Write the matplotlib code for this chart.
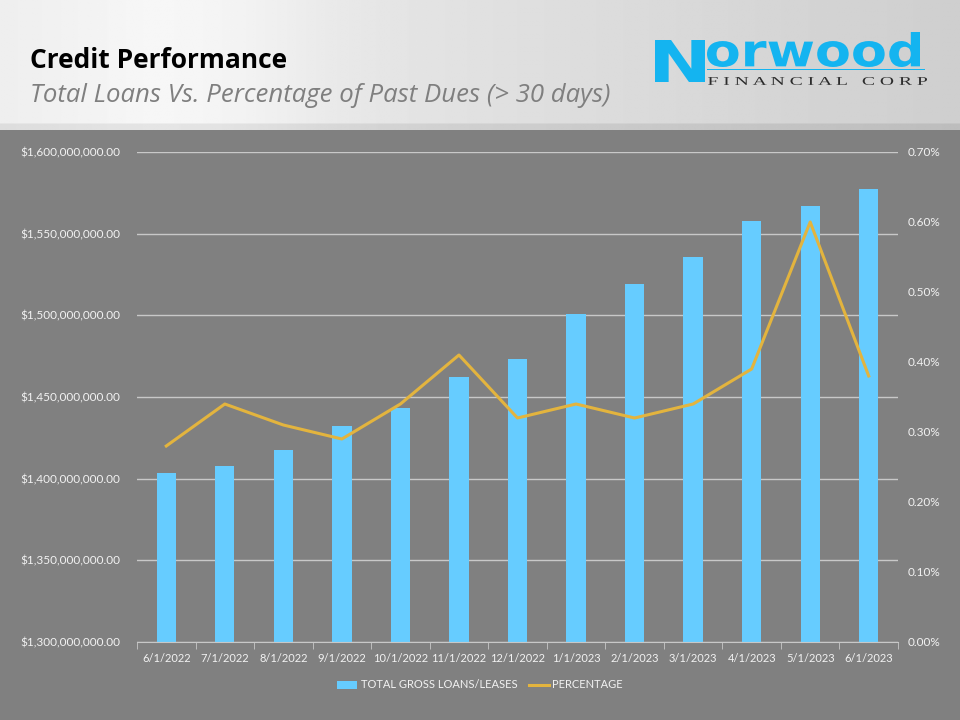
import numpy as np
import matplotlib
matplotlib.use("Agg")
import matplotlib.pyplot as plt
from matplotlib.ticker import FuncFormatter, FixedLocator
from matplotlib.textpath import TextPath
from matplotlib.font_manager import FontProperties
from matplotlib.patches import PathPatch, Rectangle
from matplotlib.transforms import Affine2D

# data
dates = ['6/1/2022', '7/1/2022', '8/1/2022', '9/1/2022', '10/1/2022', '11/1/2022',
         '12/1/2022', '1/1/2023', '2/1/2023', '3/1/2023', '4/1/2023', '5/1/2023', '6/1/2023']
total_loans = [1403.5e6, 1407.5e6, 1417.5e6, 1432e6, 1443e6, 1462e6, 1473e6,
               1501e6, 1519e6, 1535.5e6, 1558e6, 1567e6, 1577.5e6]
past_due_pct = [0.28, 0.34, 0.31, 0.29, 0.34, 0.41, 0.32, 0.34, 0.32, 0.34, 0.39, 0.60, 0.38]

bar_color = '#66CCFF'
line_color = '#E3B43E'
bg_gray = '#808080'
txt_color = '#F2F2F2'
grid_color = '#C8C8C8'
logo_color = '#14B4F0'

plt.rcParams['font.family'] = ['Lato', 'DejaVu Sans']

fig = plt.figure(figsize=(9.6, 7.2), dpi=100)
fig.patch.set_facecolor(bg_gray)

# header band with a light gradient
hdr = fig.add_axes([0, 1 - 130 / 720, 1, 130 / 720])
xx = np.linspace(0, 1, 400)
yy = np.linspace(0, 1, 100)
X, Y = np.meshgrid(xx, yy)
grad = 0.93 - 0.12 * np.clip((X - 0.15) / 0.85, 0, 1) + 0.04 * np.exp(-((X - 0.2) ** 2) / 0.02)
grad = grad - 0.07 * (Y > 0.95)
hdr.imshow(np.clip(grad, 0, 1), cmap='gray', vmin=0, vmax=1, aspect='auto',
           extent=[0, 1, 0, 1], origin='upper')
hdr.set_axis_off()

fig.text(30 / 960, 1 - 61 / 720, 'Credit Performance', fontsize=19, fontweight='bold',
         color='black', family=['Open Sans', 'DejaVu Sans'], va='center', ha='left')
fig.text(30 / 960, 1 - 95 / 720, 'Total Loans Vs. Percentage of Past Dues (> 30 days)',
         fontsize=18.5, style='italic', color='#7F7F7F', family=['Open Sans', 'DejaVu Sans'],
         va='center', ha='left')

# logo drawn as scaled text paths in a pixel-space overlay (y from top)
ov = fig.add_axes([0, 0, 1, 1], zorder=5)
ov.set_xlim(0, 960)
ov.set_ylim(720, 0)
ov.set_axis_off()


def fit_text(s, x0, y0, x1, y1, props, color):
    tp = TextPath((0, 0), s, size=10, prop=props)
    ext = tp.get_extents()
    sx = (x1 - x0) / ext.width
    sy = (y1 - y0) / ext.height
    tr = Affine2D().translate(-ext.x0, -ext.y0).scale(sx, -sy).translate(x0, y1)
    ov.add_patch(PathPatch(tr.transform_path(tp), color=color, lw=0))


bold = FontProperties(family='DejaVu Sans', weight='bold')
fit_text('N', 655, 40, 705, 82, bold, logo_color)
fit_text('orwood', 707, 32, 920, 67, bold, logo_color)
ov.add_patch(Rectangle((707, 68.5), 218, 1.5, color=logo_color, lw=0))
fit_text('F I N A N C I A L   C O R P', 708, 77, 927, 85,
         FontProperties(family='Liberation Serif'), '#2B2B2B')

# main chart
ax = fig.add_axes([137 / 960, 1 - 642 / 720, 761 / 960, 490 / 720])
ax.set_facecolor(bg_gray)
x = np.arange(len(dates))
ax.bar(x, total_loans, width=0.33, color=bar_color, label='TOTAL GROSS LOANS/LEASES', zorder=2)
ax.set_ylim(1.3e9, 1.6e9)
ax.set_xlim(-0.5, len(dates) - 0.5)
ax.set_yticks(np.arange(1.3e9, 1.6e9 + 1, 0.05e9))
ax.yaxis.set_major_formatter(FuncFormatter(lambda v, p: '${:,.2f}'.format(v)))
ax.grid(axis='y', color=grid_color, linewidth=1, zorder=0)
ax.set_axisbelow(True)
ax.set_xticks(x)
ax.set_xticklabels(dates)
ax.xaxis.set_minor_locator(FixedLocator(np.arange(-0.5, len(dates), 1)))
ax.tick_params(axis='x', which='major', length=0, colors=txt_color, labelsize=8, pad=8)
ax.tick_params(axis='x', which='minor', length=5, color=grid_color)
ax.tick_params(axis='y', length=0, colors=txt_color, labelsize=8.5, pad=12)
for s in ['left', 'right', 'top']:
    ax.spines[s].set_visible(False)
ax.spines['bottom'].set_color(grid_color)

ax2 = ax.twinx()
ax2.plot(x, past_due_pct, color=line_color, linewidth=2.2, label='PERCENTAGE', zorder=3)
ax2.set_ylim(0, 0.7)
ax2.set_yticks(np.arange(0, 0.71, 0.1))
ax2.yaxis.set_major_formatter(FuncFormatter(lambda v, p: '{:.2f}%'.format(v)))
ax2.tick_params(axis='y', length=0, colors=txt_color, labelsize=8.5, pad=7)
for s in ['left', 'right', 'top', 'bottom']:
    ax2.spines[s].set_visible(False)

h1, l1 = ax.get_legend_handles_labels()
h2, l2 = ax2.get_legend_handles_labels()
leg = fig.legend(h1 + h2, l1 + l2, loc='center', bbox_to_anchor=(0.5, 1 - 685 / 720),
                 ncol=2, frameon=False, fontsize=8, handlelength=1.8, handletextpad=0.3,
                 columnspacing=1.0)
for t in leg.get_texts():
    t.set_color(txt_color)

fig.savefig('out.png', dpi=100, facecolor=fig.get_facecolor())
